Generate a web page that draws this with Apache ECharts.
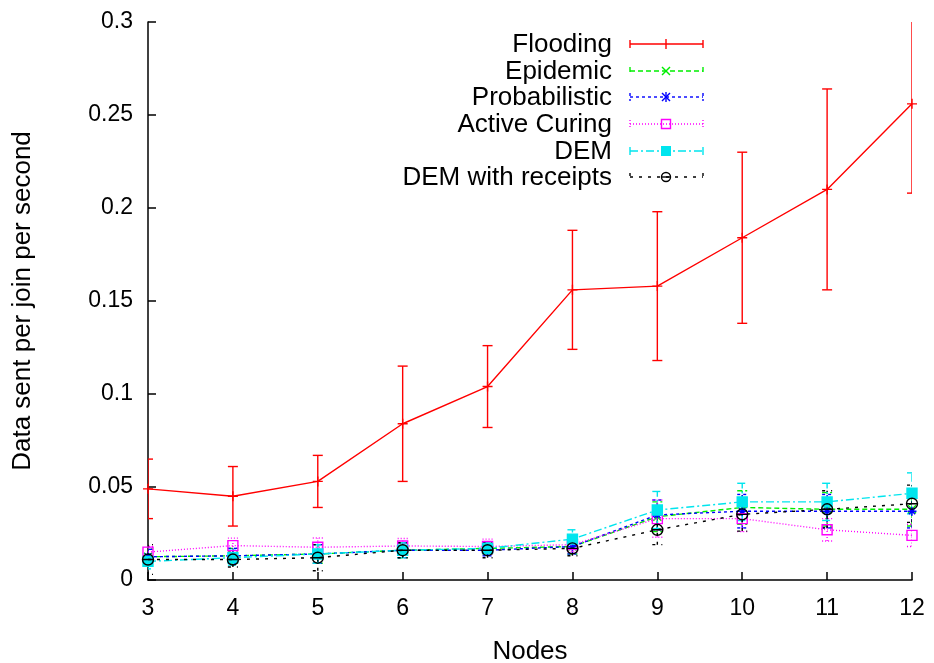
<!DOCTYPE html>
<html><head><meta charset="utf-8">
<script src="https://cdn.jsdelivr.net/npm/echarts@6/dist/echarts.min.js"></script>
<style>html,body{margin:0;padding:0;background:#fff}#c{width:934px;height:663px}</style>
</head><body><div id="c"></div>
<script>
const nodes = [3, 4, 5, 6, 7, 8, 9, 10, 11, 12];
const flooding      = [0.049, 0.045, 0.053, 0.084, 0.104, 0.156, 0.158, 0.184, 0.210, 0.256];
const floodingErr   = [0.016, 0.016, 0.014, 0.031, 0.022, 0.032, 0.040, 0.046, 0.054, 0.048];
const epidemic      = [0.0125, 0.013, 0.014, 0.016, 0.017, 0.018, 0.034, 0.039, 0.038, 0.038];
const epidemicErr   = [0.004, 0.004, 0.005, 0.004, 0.003, 0.004, 0.008, 0.009, 0.009, 0.009];
const probabilistic = [0.0125, 0.013, 0.014, 0.016, 0.016, 0.018, 0.035, 0.037, 0.037, 0.037];
const probabilisticErr = [0.004, 0.004, 0.005, 0.004, 0.003, 0.004, 0.008, 0.009, 0.009, 0.009];
const activeCuring  = [0.015, 0.0185, 0.0176, 0.0183, 0.018, 0.019, 0.033, 0.033, 0.027, 0.024];
const activeCuringErr = [0.003, 0.004, 0.005, 0.004, 0.004, 0.004, 0.010, 0.007, 0.006, 0.006];
const dem           = [0.010, 0.012, 0.014, 0.016, 0.017, 0.022, 0.0376, 0.042, 0.042, 0.0466];
const demErr        = [0.004, 0.004, 0.005, 0.004, 0.003, 0.005, 0.010, 0.010, 0.010, 0.011];
const demReceipts   = [0.011, 0.011, 0.012, 0.016, 0.016, 0.017, 0.027, 0.0353, 0.038, 0.041];
const demReceiptsErr = [0.008, 0.004, 0.007, 0.004, 0.004, 0.004, 0.008, 0.009, 0.010, 0.010];
const seriesNames = ['Flooding', 'Epidemic', 'Probabilistic', 'Active Curing', 'DEM', 'DEM with receipts'];

const FONT = 'Liberation Sans, Arial, Helvetica, sans-serif';
const LW = 1.4;
const specs = [
  {name: seriesNames[0], vals: flooding, err: floodingErr, color: '#ff0000', dash: 'solid',
   symbol: 'path://M0,5L10,5M5,0L5,10', size: 10, fill: 'transparent'},
  {name: seriesNames[1], vals: epidemic, err: epidemicErr, color: '#00ee00', dash: [5, 3],
   symbol: 'path://M0,0L10,10M10,0L0,10', size: 8, fill: 'transparent'},
  {name: seriesNames[2], vals: probabilistic, err: probabilisticErr, color: '#0000ff', dash: [3, 3],
   symbol: 'path://M0,5L10,5M5,0L5,10M1.5,1.5L8.5,8.5M8.5,1.5L1.5,8.5', size: 9, fill: 'transparent'},
  {name: seriesNames[3], vals: activeCuring, err: activeCuringErr, color: '#ff00ff', dash: [1, 2],
   symbol: 'rect', size: 10, fill: 'transparent'},
  {name: seriesNames[4], vals: dem, err: demErr, color: '#00e5ee', dash: [8, 3, 2, 3],
   symbol: 'rect', size: 10, fill: '#00e5ee'},
  {name: seriesNames[5], vals: demReceipts, err: demReceiptsErr, color: '#000000', dash: [3, 6],
   symbol: 'path://M0,5A5,5 0 1,1 10,5A5,5 0 1,1 0,5ZM0,5L10,5', size: 11, fill: 'transparent'}
];

const series = [];
specs.forEach((s, si) => {
  series.push({
    type: 'custom', name: s.name + ' err', clip: true, z: 2 + si,
    data: nodes.map((x, i) => [x, s.vals[i] - s.err[i], s.vals[i] + s.err[i]]),
    renderItem: function (params, api) {
      const lo = api.coord([api.value(0), api.value(1)]);
      const hi = api.coord([api.value(0), api.value(2)]);
      const w = 5;
      const st = {stroke: s.color, lineWidth: LW, lineDash: s.dash === 'solid' ? null : s.dash};
      return {type: 'group', children: [
        {type: 'line', shape: {x1: lo[0], y1: lo[1], x2: hi[0], y2: hi[1]}, style: st},
        {type: 'line', shape: {x1: lo[0] - w, y1: lo[1], x2: lo[0] + w, y2: lo[1]}, style: st},
        {type: 'line', shape: {x1: hi[0] - w, y1: hi[1], x2: hi[0] + w, y2: hi[1]}, style: st}
      ]};
    }
  });
  series.push({
    type: 'line', name: s.name, z: 10 + si,
    data: nodes.map((x, i) => [x, s.vals[i]]),
    symbol: s.symbol, symbolSize: s.size, showAllSymbol: true,
    lineStyle: {color: s.color, width: LW, type: s.dash},
    itemStyle: {color: s.fill, borderColor: s.color, borderWidth: LW},
    animation: false
  });
});

// legend drawn with graphics
const graphic = [];
const legTextRight = 612, lx1 = 630, lx2 = 703, lmx = 666;
const rowY = [44, 71, 97, 124, 151, 177];
specs.forEach((s, i) => {
  const y = rowY[i];
  graphic.push({type: 'text', x: legTextRight, y: y + 1, style: {text: s.name, font: '26px ' + FONT, fill: '#000', textAlign: 'right', textVerticalAlign: 'middle'}});
  const st = {stroke: s.color, lineWidth: LW, lineDash: s.dash === 'solid' ? null : s.dash};
  graphic.push({type: 'line', shape: {x1: lx1, y1: y, x2: lx2, y2: y}, style: st});
  graphic.push({type: 'line', shape: {x1: lx1, y1: y - 4, x2: lx1, y2: y + 4}, style: st});
  graphic.push({type: 'line', shape: {x1: lx2, y1: y - 4, x2: lx2, y2: y + 4}, style: st});
  const ms = {stroke: s.color, lineWidth: LW};
  if (i === 0) {
    graphic.push({type: 'line', shape: {x1: lmx, y1: y - 5, x2: lmx, y2: y + 5}, style: ms});
  } else if (i === 1) {
    graphic.push({type: 'line', shape: {x1: lmx - 4, y1: y - 4, x2: lmx + 4, y2: y + 4}, style: ms});
    graphic.push({type: 'line', shape: {x1: lmx + 4, y1: y - 4, x2: lmx - 4, y2: y + 4}, style: ms});
  } else if (i === 2) {
    graphic.push({type: 'line', shape: {x1: lmx - 4, y1: y - 4, x2: lmx + 4, y2: y + 4}, style: ms});
    graphic.push({type: 'line', shape: {x1: lmx + 4, y1: y - 4, x2: lmx - 4, y2: y + 4}, style: ms});
    graphic.push({type: 'line', shape: {x1: lmx, y1: y - 5, x2: lmx, y2: y + 5}, style: ms});
  } else if (i === 3) {
    graphic.push({type: 'rect', shape: {x: lmx - 4.5, y: y - 4.5, width: 9, height: 9}, style: {fill: 'transparent', stroke: s.color, lineWidth: LW}});
  } else if (i === 4) {
    graphic.push({type: 'rect', shape: {x: lmx - 5, y: y - 5, width: 10, height: 10}, style: {fill: s.color}});
  } else {
    graphic.push({type: 'circle', shape: {cx: lmx, cy: y, r: 4.5}, style: {fill: 'transparent', stroke: s.color, lineWidth: LW}});
    graphic.push({type: 'line', shape: {x1: lmx - 4.5, y1: y, x2: lmx + 4.5, y2: y}, style: ms});
  }
});

const chart = echarts.init(document.getElementById('c'), null, {renderer: 'canvas'});
chart.setOption({
  animation: false,
  backgroundColor: '#fff',
  grid: {left: 148, right: 22, top: 22, bottom: 83, containLabel: false, outerBoundsMode: 'none'},
  xAxis: {
    type: 'value', min: 3, max: 12, interval: 1,
    name: 'Nodes', nameLocation: 'middle', nameGap: 59,
    nameTextStyle: {fontSize: 26, fontFamily: FONT, color: '#000'},
    axisLine: {show: true, lineStyle: {color: '#000', width: 1.5}},
    axisTick: {show: true, inside: true, length: 8, lineStyle: {color: '#000', width: 1.5}},
    axisLabel: {fontSize: 23, fontFamily: FONT, color: '#000', margin: 17},
    splitLine: {show: false}
  },
  yAxis: {
    type: 'value', min: 0, max: 0.3, interval: 0.05,
    name: 'Data sent per join per second', nameLocation: 'middle', nameGap: 112, nameRotate: 90,
    nameTextStyle: {fontSize: 26, fontFamily: FONT, color: '#000'},
    axisLine: {show: true, lineStyle: {color: '#000', width: 1.5}},
    axisTick: {show: true, inside: true, length: 8, lineStyle: {color: '#000', width: 1.5}},
    axisLabel: {fontSize: 23, fontFamily: FONT, color: '#000', margin: 15},
    splitLine: {show: false}
  },
  graphic: graphic,
  series: series
});
</script>
</body></html>
